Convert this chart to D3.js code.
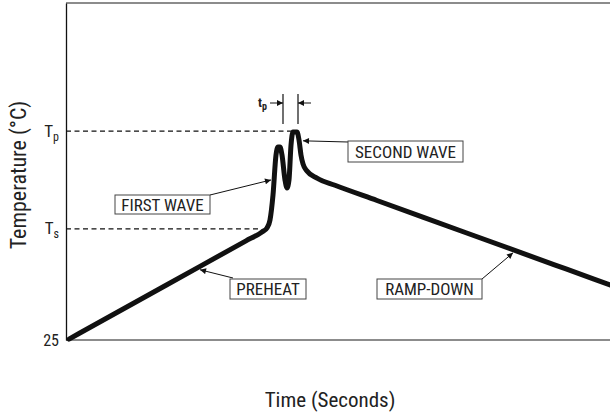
<!DOCTYPE html>
<html>
<head>
<meta charset="utf-8">
<script src="https://cdn.jsdelivr.net/npm/d3@7/dist/d3.min.js"></script>
<style>
  html, body { margin: 0; padding: 0; background: #fff; }
  svg { display: block; }
  text { font-family: "Liberation Sans Narrow", "Arial Narrow", "Roboto Condensed", "Liberation Sans", sans-serif; fill: #222; }
</style>
</head>
<body>
<svg id="chart" width="610" height="414"></svg>
<script>
// ---- data (time in seconds, temperature in °C; schematic profile) ----
const timeSec = [1.5, 50, 90, 98, 100.5, 102, 103.5, 105, 106, 107, 108, 109.5, 110.5, 111.5, 112.5, 113.5, 115.5, 116.5, 117.5, 118.5, 120.5, 125.5, 134.5, 155.5, 200, 250, 272];
const tempC   = [26, 86.6, 136.5, 146.5, 151, 160, 188, 233, 242, 242, 233, 205, 196, 205, 244, 259, 259, 250, 233, 223, 215, 207, 199, 181.9, 145.6, 104.9, 87];
const yTickValues = [25, 150, 260];
const yTickNames  = ["25", "T", "T"];
const yTickSubs   = ["", "s", "p"];
const TS = 150, TP = 260;
const tpWindow = [108.5, 116];
const labelTexts = ["FIRST WAVE", "SECOND WAVE", "PREHEAT", "RAMP-DOWN"];
const labelTargetT = [102.5, 118.5, 67, 223.5];
const labelTargetC = [205, 249, 104, 123];

// ---- layout ----
const svg = d3.select("#chart");
const pLeft = 66, pTop = 3, pBottom = 340, pRight = 610;
const x = d3.scaleLinear().domain([0, 272]).range([pLeft, pRight]);
const y = d3.scaleLinear().domain([25, 404]).range([pBottom, pTop]);

const defs = svg.append("defs");
defs.append("marker").attr("id", "ah").attr("viewBox", "0 0 10 10")
  .attr("refX", 10).attr("refY", 5).attr("markerWidth", 9).attr("markerHeight", 6)
  .attr("markerUnits", "userSpaceOnUse").attr("orient", "auto")
  .append("path").attr("d", "M0,0 L10,5 L0,10 Z").attr("fill", "#111");

// frame
svg.append("line").attr("x1", pLeft).attr("x2", pRight).attr("y1", pTop).attr("y2", pTop)
  .attr("stroke", "#666").attr("stroke-width", 1.5);
svg.append("line").attr("x1", pLeft).attr("x2", pRight).attr("y1", pBottom).attr("y2", pBottom)
  .attr("stroke", "#666").attr("stroke-width", 1.5);

// y axis via d3.axisLeft (no ticks, custom labels)
const yAxis = d3.axisLeft(y).tickValues(yTickValues).tickSize(0).tickFormat("");
const gy = svg.append("g").attr("transform", `translate(${pLeft},0)`).call(yAxis);
gy.select(".domain").attr("stroke", "#111").attr("stroke-width", 1.3);

yTickValues.forEach((v, i) => {
  const t = svg.append("text").attr("x", pLeft - 7).attr("y", y(v) + 5.5)
    .attr("text-anchor", "end").attr("font-size", yTickSubs[i] ? 17 : 16);
  t.append("tspan").text(yTickNames[i]);
  if (yTickSubs[i]) {
    t.append("tspan").attr("dy", 4).attr("font-size", 12).text(yTickSubs[i]);
  }
});

// dashed reference lines
const pts = timeSec.map((t, i) => [t, tempC[i]]);
svg.append("line").attr("x1", pLeft).attr("x2", x(97)).attr("y1", y(TS)).attr("y2", y(TS))
  .attr("stroke", "#111").attr("stroke-width", 1.3).attr("stroke-dasharray", "5,3.5");
svg.append("line").attr("x1", pLeft).attr("x2", x(113.5)).attr("y1", y(TP)).attr("y2", y(TP))
  .attr("stroke", "#111").attr("stroke-width", 1.3).attr("stroke-dasharray", "5,3.5");

// profile curve
const line = d3.line().x(d => x(d[0])).y(d => y(d[1])).curve(d3.curveMonotoneX);
svg.append("path").datum(pts).attr("d", line)
  .attr("fill", "none").attr("stroke", "#111").attr("stroke-width", 5)
  .attr("stroke-linejoin", "round").attr("stroke-linecap", "round");

// tp marker
const tpTop = 94, tpBot = 124, tpY = 103;
tpWindow.forEach(t => {
  svg.append("line").attr("x1", x(t)).attr("x2", x(t)).attr("y1", tpTop).attr("y2", tpBot)
    .attr("stroke", "#111").attr("stroke-width", 1.2);
});
svg.append("line").attr("x1", x(tpWindow[0]) - 13).attr("x2", x(tpWindow[0])).attr("y1", tpY).attr("y2", tpY)
  .attr("stroke", "#111").attr("stroke-width", 1).attr("marker-end", "url(#ah)");
svg.append("line").attr("x1", x(tpWindow[1]) + 13).attr("x2", x(tpWindow[1])).attr("y1", tpY).attr("y2", tpY)
  .attr("stroke", "#111").attr("stroke-width", 1).attr("marker-end", "url(#ah)");
const tpLab = svg.append("text").attr("x", x(tpWindow[0]) - 16).attr("y", tpY + 4)
  .attr("text-anchor", "end").attr("font-size", 13).attr("font-weight", "bold");
tpLab.append("tspan").text("t");
tpLab.append("tspan").attr("dy", 3).attr("font-size", 10).text("p");

// annotation boxes
const boxes = [
  { x0: 115, y0: 195, w: 95, h: 19, ax: 210, ay: 195 },
  { x0: 348, y0: 141, w: 115, h: 21, ax: 348, ay: 142 },
  { x0: 230, y0: 279, w: 76, h: 20, ax: 233, ay: 278 },
  { x0: 377, y0: 279, w: 105, h: 20, ax: 482, ay: 279 }
];
labelTexts.forEach((txt, i) => {
  const b = boxes[i];
  svg.append("line").attr("x1", b.ax).attr("y1", b.ay)
    .attr("x2", x(labelTargetT[i])).attr("y2", y(labelTargetC[i]))
    .attr("stroke", "#111").attr("stroke-width", 1).attr("marker-end", "url(#ah)");
  svg.append("rect").attr("x", b.x0).attr("y", b.y0).attr("width", b.w).attr("height", b.h)
    .attr("fill", "#fff").attr("stroke", "#444").attr("stroke-width", 1);
  svg.append("text").attr("x", b.x0 + b.w / 2).attr("y", b.y0 + b.h / 2 + 6)
    .attr("text-anchor", "middle").attr("font-size", 17).text(txt);
});

// axis titles
svg.append("text").attr("x", 330).attr("y", 407).attr("text-anchor", "middle")
  .attr("font-size", 21).text("Time (Seconds)");
svg.append("text").attr("transform", "translate(26,175) rotate(-90)").attr("text-anchor", "middle")
  .attr("font-size", 22).text("Temperature (°C)");
</script>
</body>
</html>
